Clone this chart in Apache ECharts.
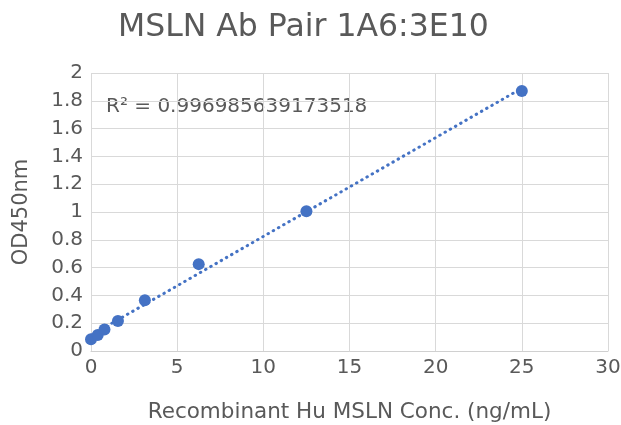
<!DOCTYPE html>
<html><head><meta charset="utf-8">
<script src="https://cdn.jsdelivr.net/npm/echarts@6/dist/echarts.min.js"></script>
<style>html,body{margin:0;padding:0;background:#fff}#c{width:621px;height:425px}</style>
</head><body><div id="c"></div>
<script>
const concentrations = [0, 0.390625, 0.78125, 1.5625, 3.125, 6.25, 12.5, 25];
const odValues = [0.085, 0.115, 0.155, 0.215, 0.365, 0.625, 1.005, 1.87];
const titleText = 'MSLN Ab Pair 1A6:3E10';
const xAxisName = 'Recombinant Hu MSLN Conc. (ng/mL)';
const yAxisName = 'OD450nm';
const r2Label = 'R² = 0.996985639173518';

// linear least-squares trendline from the data
const n = concentrations.length;
const mx = concentrations.reduce((a,b)=>a+b,0)/n;
const my = odValues.reduce((a,b)=>a+b,0)/n;
let sxy=0,sxx=0;
for(let i=0;i<n;i++){sxy+=(concentrations[i]-mx)*(odValues[i]-my);sxx+=(concentrations[i]-mx)**2;}
const slope=sxy/sxx, intercept=my-slope*mx;
const xmin=Math.min(...concentrations), xmax=Math.max(...concentrations);
const trend=[[xmin,intercept+slope*xmin],[xmax,intercept+slope*xmax]];

const font="'DejaVu Sans', sans-serif";
const txt='#595959';
const chart=echarts.init(document.getElementById('c'),null,{renderer:'canvas'});
chart.setOption({
  animation:false,
  textStyle:{fontFamily:font},
  title:{text:titleText,left:113,top:7,textStyle:{fontFamily:font,fontSize:31.5,fontWeight:'normal',color:txt}},
  grid:{left:91,right:13,top:73,bottom:74,containLabel:false,outerBoundsMode:'none'},
  xAxis:{type:'value',min:0,max:30,interval:5,name:xAxisName,nameLocation:'middle',nameGap:50,
    nameTextStyle:{fontFamily:font,fontSize:21.5,color:txt},
    axisLine:{show:true,lineStyle:{color:'#d0d0d0'}},axisTick:{show:false},
    axisLabel:{fontFamily:font,fontSize:20,color:txt,margin:7},
    splitLine:{show:true,lineStyle:{color:'#d9d9d9'}}},
  yAxis:{type:'value',min:0,max:2,interval:0.2,name:yAxisName,nameLocation:'middle',nameGap:59,
    nameTextStyle:{fontFamily:font,fontSize:21,color:txt},
    axisLine:{show:false},axisTick:{show:false},
    axisLabel:{fontFamily:font,fontSize:20,color:txt,margin:8,formatter:v=>String(+v.toFixed(1))},
    splitLine:{show:true,lineStyle:{color:'#d9d9d9'}}},
  graphic:[{type:'text',left:106,top:97,style:{text:r2Label,fontFamily:font,fontSize:20,fill:txt}}],
  series:[
    {type:'line',data:trend,symbol:'none',lineStyle:{type:[0.5,5.5],cap:'round',width:3,color:'#4472C4'},z:2},
    {type:'scatter',data:concentrations.map((x,i)=>[x,odValues[i]]),symbolSize:12,itemStyle:{color:'#4472C4',opacity:1},z:3}
  ]
});
</script></body></html>
